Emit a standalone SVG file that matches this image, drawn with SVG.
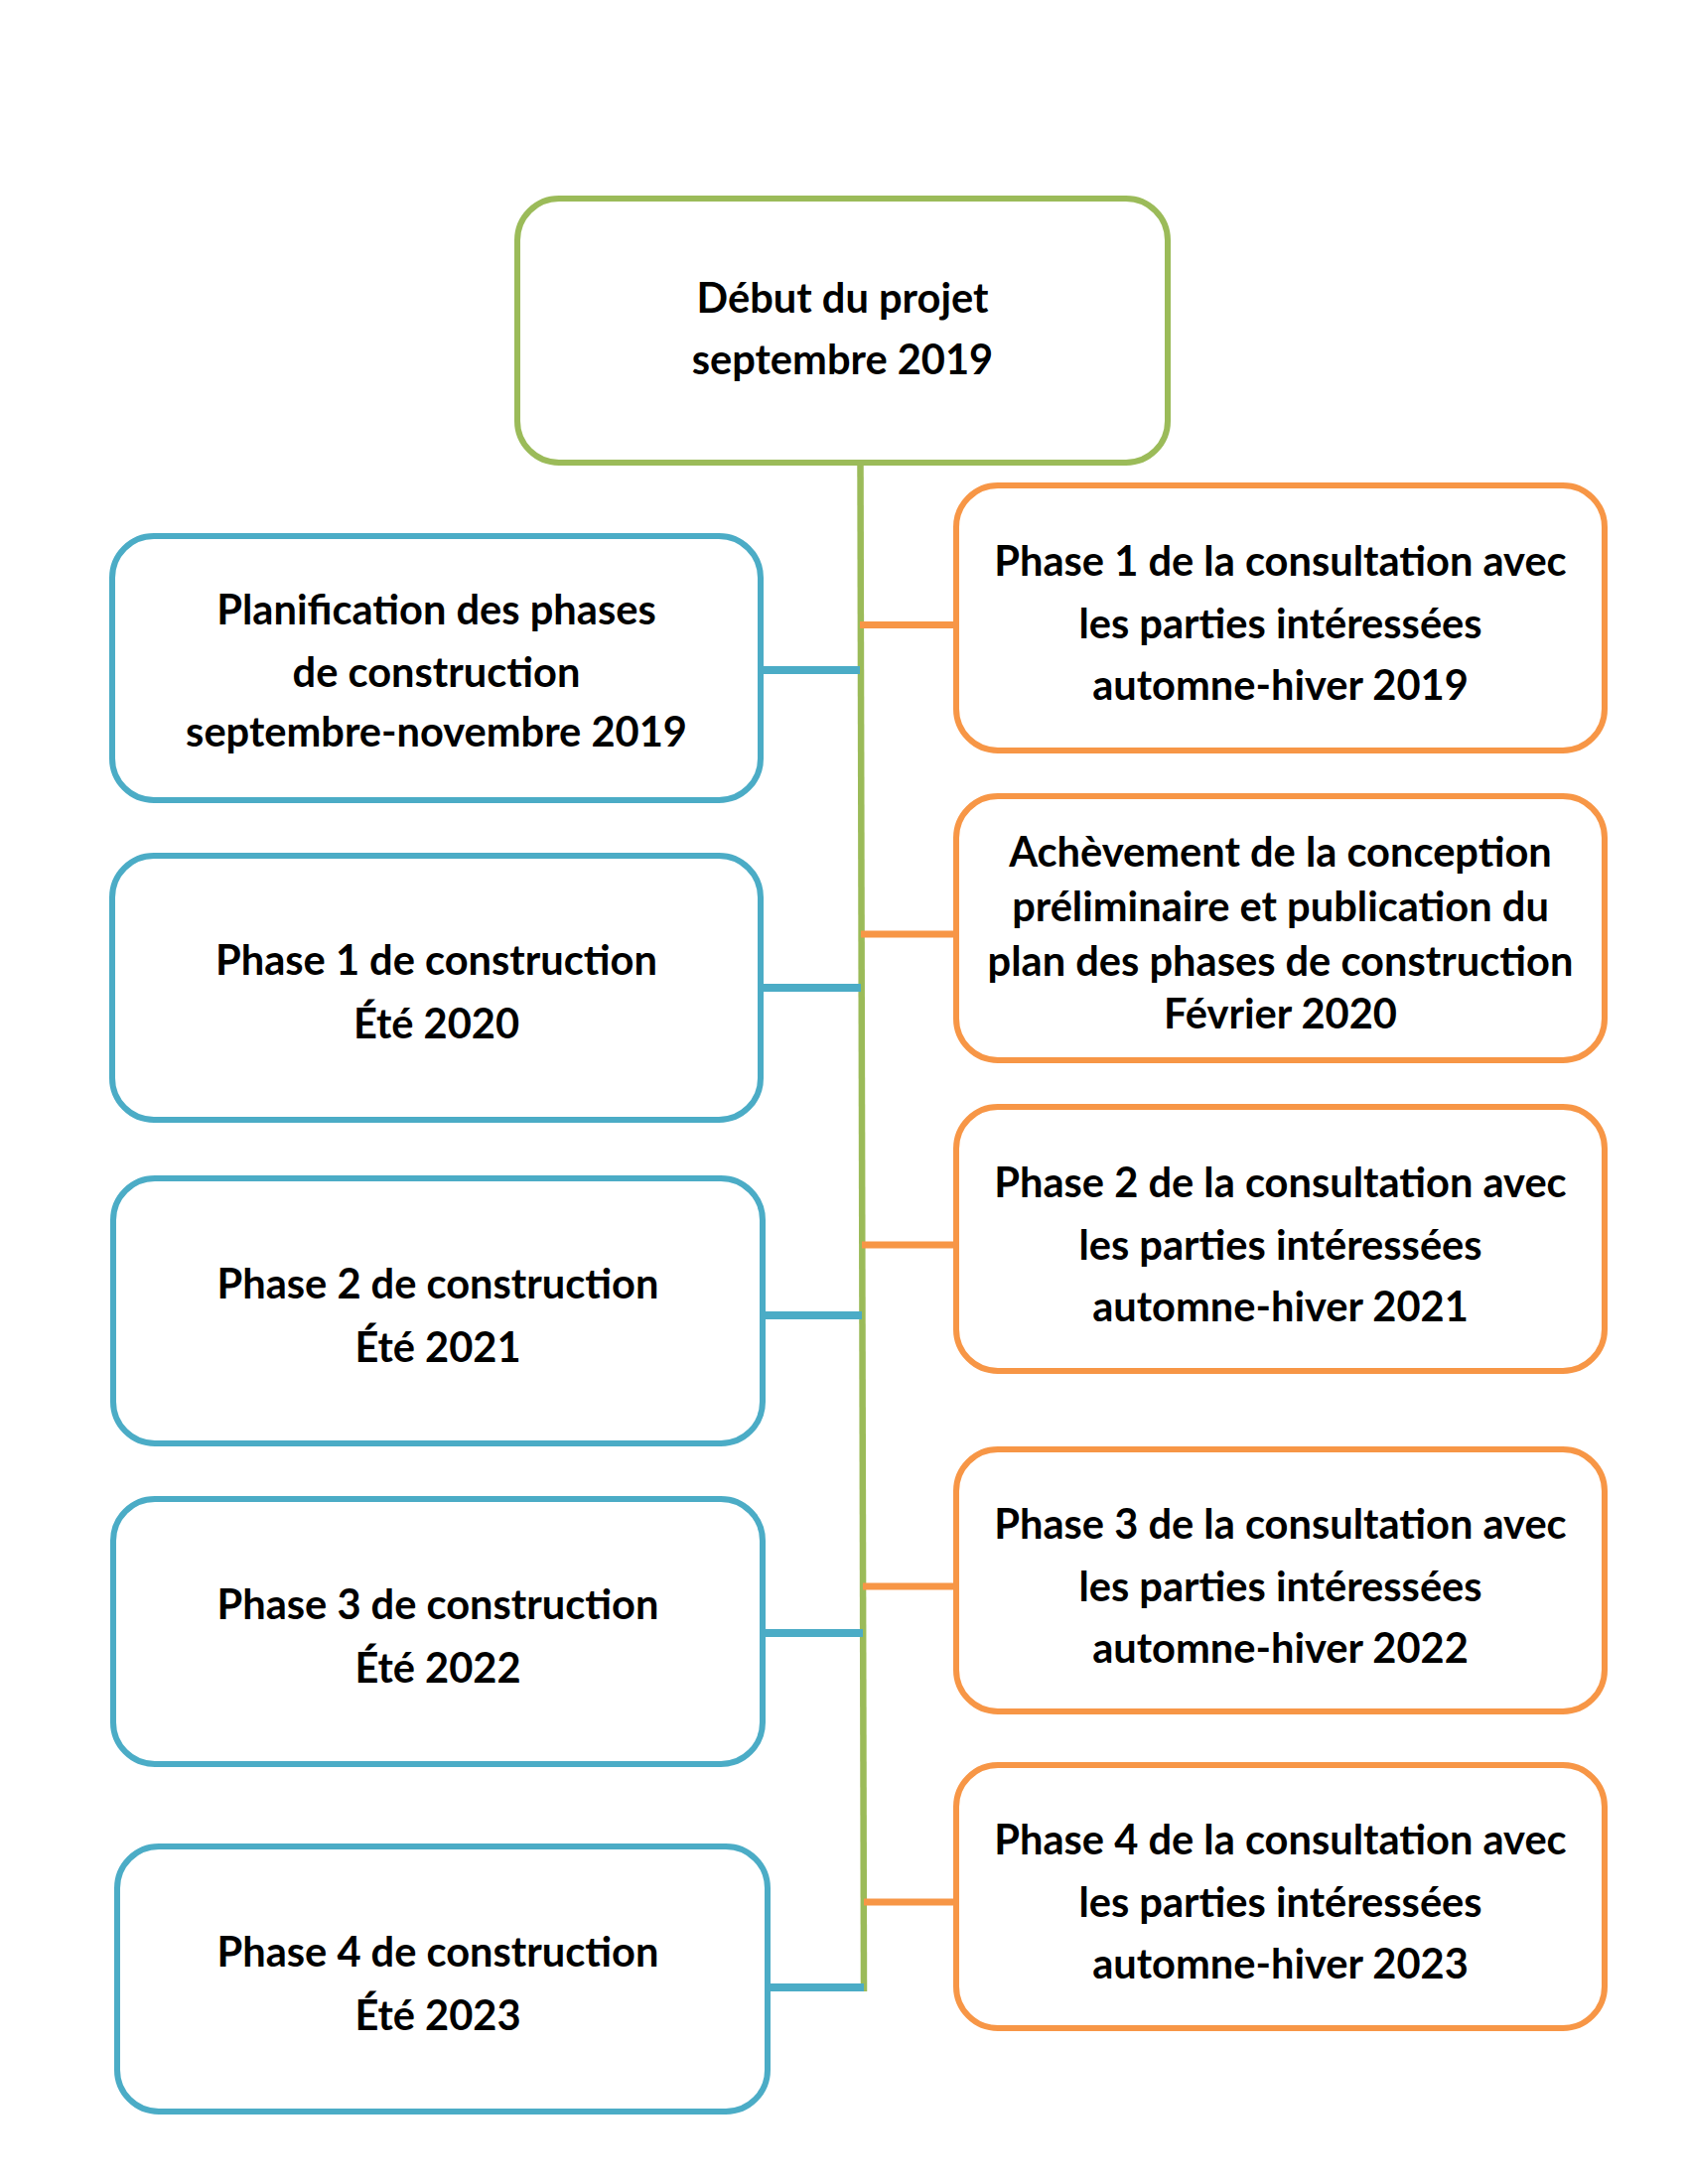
<svg xmlns="http://www.w3.org/2000/svg" width="1700" height="2200" viewBox="0 0 1700 2200">
<style>
.box{fill:#FFFFFF;stroke-width:6}
.g{stroke:#9BBB59}
.b{stroke:#4BACC6}
.o{stroke:#F79646}
.t{font-family:Lato,"Liberation Sans",sans-serif;font-weight:bold;font-size:41.6px;fill:#000000;text-anchor:middle}
.cb{stroke:#4BACC6;stroke-width:8;fill:none}
.co{stroke:#F79646;stroke-width:7;fill:none}
.cg{stroke:#9BBB59;stroke-width:6.5;fill:none}
</style>
<rect width="1700" height="2200" fill="#FFFFFF"/>
<g id="connectors">
<line class="cg" x1="866.5" y1="466" x2="870" y2="2006"/>
<line class="cb" x1="766" y1="675" x2="866" y2="675"/>
<line class="cb" x1="766" y1="995" x2="867" y2="995"/>
<line class="cb" x1="768" y1="1325" x2="868" y2="1325"/>
<line class="cb" x1="768" y1="1645" x2="869" y2="1645"/>
<line class="cb" x1="773" y1="2002" x2="870" y2="2002"/>
<line class="co" x1="866" y1="629.5" x2="963" y2="629.5"/>
<line class="co" x1="867" y1="941" x2="963" y2="941"/>
<line class="co" x1="868" y1="1254" x2="963" y2="1254"/>
<line class="co" x1="869" y1="1598" x2="963" y2="1598"/>
<line class="co" x1="870" y1="1916" x2="963" y2="1916"/>
</g>
<g id="debut">
<rect class="box g" x="521" y="200" width="655" height="266" rx="42"/>
<text class="t" x="848.5" y="315">Début du projet</text>
<text class="t" x="848.5" y="377">septembre 2019</text>
</g>
<g id="planification">
<rect class="box b" x="113" y="540" width="653" height="266" rx="42"/>
<text class="t" x="439.5" y="629">Planification des phases</text>
<text class="t" x="439.5" y="692">de construction</text>
<text class="t" x="439.5" y="752">septembre-novembre 2019</text>
</g>
<g id="construction1">
<rect class="box b" x="113" y="862" width="653" height="266" rx="42"/>
<text class="t" x="439.5" y="982">Phase 1 de construction</text>
<text class="t" x="439.5" y="1046">Été 2020</text>
</g>
<g id="construction2">
<rect class="box b" x="114" y="1187" width="654" height="267" rx="42"/>
<text class="t" x="441" y="1307.5">Phase 2 de construction</text>
<text class="t" x="441" y="1371.5">Été 2021</text>
</g>
<g id="construction3">
<rect class="box b" x="114" y="1510" width="654" height="267" rx="42"/>
<text class="t" x="441" y="1630.5">Phase 3 de construction</text>
<text class="t" x="441" y="1694.5">Été 2022</text>
</g>
<g id="construction4">
<rect class="box b" x="118" y="1860" width="655" height="267" rx="42"/>
<text class="t" x="441" y="1980.5">Phase 4 de construction</text>
<text class="t" x="441" y="2044.5">Été 2023</text>
</g>
<g id="consultation1">
<rect class="box o" x="963" y="489" width="653" height="267" rx="42"/>
<text class="t" x="1289.5" y="580">Phase 1 de la consultation avec</text>
<text class="t" x="1289.5" y="643">les parties intéressées</text>
<text class="t" x="1289.5" y="705">automne-hiver 2019</text>
</g>
<g id="achevement">
<rect class="box o" x="963" y="802" width="653" height="266" rx="42"/>
<text class="t" x="1289.5" y="873">Achèvement de la conception</text>
<text class="t" x="1289.5" y="928">préliminaire et publication du</text>
<text class="t" x="1289.5" y="983">plan des phases de construction</text>
<text class="t" x="1289.5" y="1036">Février 2020</text>
</g>
<g id="consultation2">
<rect class="box o" x="963" y="1115" width="653" height="266" rx="42"/>
<text class="t" x="1289.5" y="1205.5">Phase 2 de la consultation avec</text>
<text class="t" x="1289.5" y="1268.5">les parties intéressées</text>
<text class="t" x="1289.5" y="1330.5">automne-hiver 2021</text>
</g>
<g id="consultation3">
<rect class="box o" x="963" y="1460" width="653" height="264" rx="42"/>
<text class="t" x="1289.5" y="1549.5">Phase 3 de la consultation avec</text>
<text class="t" x="1289.5" y="1612.5">les parties intéressées</text>
<text class="t" x="1289.5" y="1674.5">automne-hiver 2022</text>
</g>
<g id="consultation4">
<rect class="box o" x="963" y="1778" width="653" height="265" rx="42"/>
<text class="t" x="1289.5" y="1868">Phase 4 de la consultation avec</text>
<text class="t" x="1289.5" y="1931">les parties intéressées</text>
<text class="t" x="1289.5" y="1993">automne-hiver 2023</text>
</g>
</svg>
